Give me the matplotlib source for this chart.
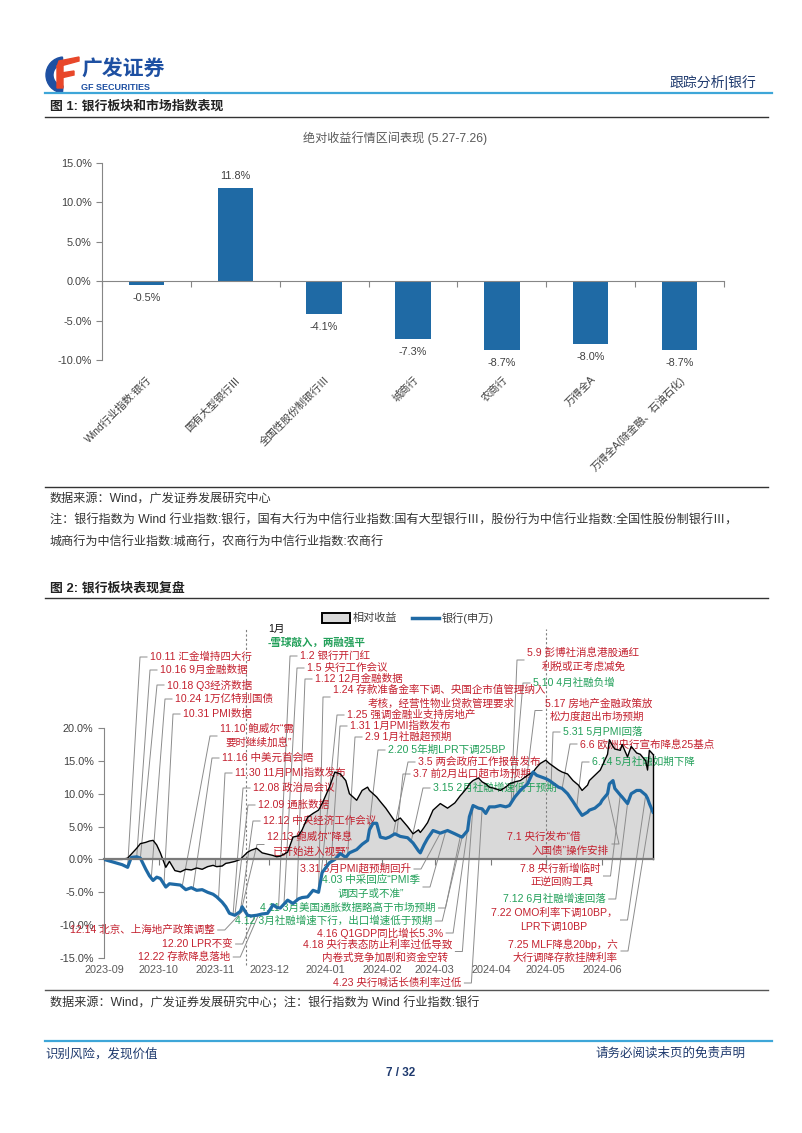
import matplotlib
matplotlib.use('Agg')
import matplotlib.pyplot as plt
import matplotlib.dates as mdates
from matplotlib.lines import Line2D
from matplotlib.patches import Rectangle, Wedge, Polygon
from matplotlib.ticker import FuncFormatter
import numpy as np
import pandas as pd

plt.rcParams['font.family'] = ['Liberation Sans', 'Noto Sans CJK SC', 'DejaVu Sans']
plt.rcParams['axes.unicode_minus'] = False

# ---------------- chart 1 data ----------------
bar_labels = ['Wind行业指数:银行', '国有大型银行Ⅲ', '全国性股份制银行Ⅲ', '城商行', '农商行',
              '万得全A', '万得全A(除金融、石油石化)']
bar_values = [-0.5, 11.8, -4.1, -7.3, -8.7, -8.0, -8.7]

# ---------------- chart 2 data ----------------
dates = ['2023-09-28', '2023-10-08', '2023-10-11', '2023-10-13', '2023-10-16', '2023-10-18', '2023-10-21',
         '2023-10-23', '2023-10-25', '2023-10-27', '2023-10-29', '2023-11-01', '2023-11-03', '2023-11-06',
         '2023-11-09', '2023-11-12', '2023-11-15', '2023-11-18', '2023-11-21', '2023-11-24', '2023-11-27',
         '2023-11-29', '2023-12-02', '2023-12-04', '2023-12-06', '2023-12-09', '2023-12-12', '2023-12-13',
         '2023-12-16', '2023-12-18', '2023-12-21', '2023-12-24', '2023-12-27', '2023-12-30', '2024-01-01',
         '2024-01-03', '2024-01-07', '2024-01-10', '2024-01-13', '2024-01-15', '2024-01-18', '2024-01-21',
         '2024-01-24', '2024-01-26', '2024-01-30', '2024-02-02', '2024-02-05', '2024-02-08', '2024-02-10',
         '2024-02-14', '2024-02-17', '2024-02-20', '2024-02-21', '2024-02-23', '2024-02-25', '2024-02-27',
         '2024-03-01', '2024-03-03', '2024-03-06', '2024-03-09', '2024-03-13', '2024-03-16', '2024-03-19',
         '2024-03-20', '2024-03-22', '2024-03-24', '2024-03-27', '2024-03-31', '2024-04-04', '2024-04-08',
         '2024-04-11', '2024-04-12', '2024-04-15', '2024-04-16', '2024-04-18', '2024-04-21', '2024-04-23',
         '2024-04-25', '2024-04-27', '2024-04-30', '2024-05-03', '2024-05-06', '2024-05-08', '2024-05-11',
         '2024-05-14', '2024-05-18', '2024-05-21', '2024-05-23', '2024-05-25', '2024-05-28', '2024-05-30',
         '2024-06-01', '2024-06-04', '2024-06-06', '2024-06-09', '2024-06-12', '2024-06-15', '2024-06-17',
         '2024-06-20', '2024-06-21', '2024-06-24', '2024-06-27', '2024-06-28', '2024-07-01', '2024-07-02',
         '2024-07-04', '2024-07-05', '2024-07-08', '2024-07-09', '2024-07-12', '2024-07-14', '2024-07-17',
         '2024-07-19', '2024-07-22', '2024-07-23', '2024-07-24', '2024-07-26']

bank = [0.0, -0.8, -1.2, 0.3, 0.4, 0.2, -1.5, -2.5, -3.2, -2.7, -2.9,
        -4.2, -3.7, -3.8, -3.9, -4.6, -4.3, -4.7, -4.6, -5.0, -5.3, -5.7,
        -6.5, -7.2, -8.2, -8.5, -7.9, -7.2, -8.5, -8.6, -8.5, -8.3, -8.2,
        -6.9, -7.3, -7.4, -6.2, -6.7, -6.0, -5.8, -5.7, -4.7, -5.0, -2.0,
        -0.5, 0.0, 0.9, 0.3, 1.0, 1.5, 2.3, 2.9, 4.5, 5.5, 5.5,
        3.4, 3.2, 3.4, 3.9, 3.5, 3.3, 2.5, 1.3, 1.0, 2.2, 3.2,
        4.4, 4.0, 4.4, 3.9, 3.5, 3.4, 4.4, 6.5, 8.2, 7.8, 7.7,
        7.0, 8.0, 8.0, 8.2, 8.0, 8.2, 9.5, 10.5, 11.5, 13.3, 12.8,
        12.6, 12.3, 12.0, 11.6, 11.0, 10.8, 10.0, 8.8, 7.5, 6.7, 7.2,
        7.5, 7.8, 8.5, 9.0, 10.0, 11.5, 12.0, 10.8, 9.8, 9.5, 8.5,
        10.0, 10.5, 10.5, 9.8, 9.3, 8.5, 7.2]

relative = [0.0, 0.0, 0.2, 0.8, 1.7, 2.4, 2.6, 2.8, 2.9, 2.2, 1.0,
            -1.2, -0.3, -1.7, -1.9, -1.5, -1.6, -1.3, -1.5, -1.1, -0.9, -1.1,
            -1.0, -0.6, -0.5, -0.3, 0.0, 0.3, 1.1, 1.4, 1.7, 1.0, 0.8,
            0.6, 0.4, 0.5, 1.1, 3.4, 3.6, 4.5, 6.4, 7.0, 7.5, 8.5,
            11.0, 13.3, 13.0, 12.0, 10.0, 9.0, 10.5, 11.0, 10.5, 10.0, 9.5,
            8.8, 7.8, 7.0, 5.8, 6.3, 5.0, 3.9, 4.5, 4.1, 4.8, 5.6,
            7.5, 8.5, 7.8, 8.6, 9.7, 10.0, 11.0, 11.5, 12.0, 12.4, 11.8,
            11.5, 11.0, 10.8, 10.5, 11.0, 11.5, 11.8, 12.0, 12.8, 13.3, 14.0,
            14.6, 15.1, 14.6, 14.2, 13.6, 13.3, 13.0, 12.0, 11.3, 10.5, 11.3,
            12.0, 12.8, 13.6, 14.2, 16.0, 18.2, 17.2, 16.8, 16.6, 17.5, 15.6,
            17.2, 16.2, 16.0, 15.0, 13.6, 16.6, 16.0]

tick_dates = pd.date_range('2023-09-28', periods=10, freq=pd.DateOffset(months=1))
marker_dates = ['2023-12-15', '2024-05-28']

RED = '#c4212f'
GREEN = '#23a05a'
BLACK = '#111111'

# event date, colour, [(text, left px, y px)], side of the leader line
events = [
    ('2023-10-11', RED, [('10.11 汇金增持四大行', 150, 657)], 'L'),
    ('2023-10-16', RED, [('10.16 9月金融数据', 160, 670)], 'L'),
    ('2023-10-18', RED, [('10.18 Q3经济数据', 167, 685)], 'L'),
    ('2023-10-24', RED, [('10.24 1万亿特别国债', 175, 699)], 'L'),
    ('2023-10-31', RED, [('10.31 PMI数据', 183, 714)], 'L'),
    ('2023-11-10', RED, [('11.10 鲍威尔“需', 220, 729), ('要时继续加息”', 225, 743)], 'L'),
    ('2023-11-16', RED, [('11.16 中美元首会晤', 222, 758)], 'L'),
    ('2023-11-30', RED, [('11.30 11月PMI指数发布', 235, 773)], 'L'),
    ('2023-12-08', RED, [('12.08 政治局会议', 253, 788)], 'L'),
    ('2023-12-09', RED, [('12.09 通胀数据', 258, 805)], 'L'),
    ('2023-12-12', RED, [('12.12 中央经济工作会议', 263, 821)], 'L'),
    ('2023-12-13', RED, [('12.13 鲍威尔“降息', 267, 837), ('已开始进入视野”', 273, 852)], 'L'),
    ('2024-01-02', RED, [('1.2 银行开门红', 300, 656)], 'L'),
    ('2024-01-05', RED, [('1.5 央行工作会议', 307, 668)], 'L'),
    ('2024-01-12', RED, [('1.12 12月金融数据', 315, 679)], 'L'),
    ('2024-01-24', RED, [('1.24 存款准备金率下调、央国企市值管理纳入', 333, 690),
                         ('考核，经营性物业贷款管理要求', 368, 704)], 'L'),
    ('2024-01-25', RED, [('1.25 强调金融业支持房地产', 347, 715)], 'L'),
    ('2024-01-31', RED, [('1.31 1月PMI指数发布', 350, 726)], 'L'),
    ('2024-02-09', RED, [('2.9 1月社融超预期', 365, 737)], 'L'),
    ('2024-02-20', GREEN, [('2.20 5年期LPR下调25BP', 388, 750)], 'L'),
    ('2024-03-05', RED, [('3.5 两会政府工作报告发布', 418, 762)], 'L'),
    ('2024-03-07', RED, [('3.7 前2月出口超市场预期', 413, 774)], 'L'),
    ('2024-03-15', GREEN, [('3.15 2月社融增速低于预期', 433, 788)], 'L'),
    ('2024-05-09', RED, [('5.9 彭博社消息港股通红', 527, 653), ('利税或正考虑减免', 542, 667)], 'L'),
    ('2024-05-10', GREEN, [('5.10 4月社融负增', 533, 683)], 'L'),
    ('2024-05-17', RED, [('5.17 房地产金融政策放', 545, 704), ('松力度超出市场预期', 550, 717)], 'L'),
    ('2024-05-31', GREEN, [('5.31 5月PMI回落', 563, 732)], 'L'),
    ('2024-06-06', RED, [('6.6 欧洲央行宣布降息25基点', 580, 744)], 'L'),
    ('2024-06-14', GREEN, [('6.14 5月社融如期下降', 592, 762)], 'L'),
    ('2023-12-14', RED, [('12.14 北京、上海地产政策调整', 70, 930)], 'R'),
    ('2023-12-20', RED, [('12.20 LPR不变', 162, 944)], 'R'),
    ('2023-12-22', RED, [('12.22 存款降息落地', 138, 957)], 'R'),
    ('2024-03-31', RED, [('3.31 3月PMI超预期回升', 300, 869)], 'R'),
    ('2024-04-03', GREEN, [('4.03 中采回应“PMI季', 322, 880), ('调因子或不准”', 338, 894)], 'R'),
    ('2024-04-11', GREEN, [('4.11 3月美国通胀数据略高于市场预期', 260, 908)], 'R'),
    ('2024-04-12', GREEN, [('4.12 3月社融增速下行，出口增速低于预期', 235, 921)], 'R'),
    ('2024-04-16', RED, [('4.16 Q1GDP同比增长5.3%', 317, 933)], 'R'),
    ('2024-04-18', RED, [('4.18 央行表态防止利率过低导致', 303, 945), ('内卷式竞争加剧和资金空转', 322, 958)], 'R'),
    ('2024-04-23', RED, [('4.23 央行喊话长债利率过低', 333, 983)], 'R'),
    ('2024-07-01', RED, [('7.1 央行发布“借', 507, 837), ('入国债”操作安排', 532, 851)], 'R'),
    ('2024-07-08', RED, [('7.8 央行新增临时', 520, 869), ('正逆回购工具', 530, 883)], 'R'),
    ('2024-07-12', GREEN, [('7.12 6月社融增速回落', 503, 899)], 'R'),
    ('2024-07-22', RED, [('7.22 OMO利率下调10BP，', 491, 913), ('LPR下调10BP', 520, 927)], 'R'),
    ('2024-07-25', RED, [('7.25 MLF降息20bp，六', 508, 944), ('大行调降存款挂牌利率', 513, 958)], 'R'),
]

# ---------------- page ----------------
W, H = 802, 1133
BLUE = '#1f6aa5'
NAVY = '#1f3a6e'
TXT = '#404040'
AXIS = '#868686'
EV_SIZE = 7.6

fig = plt.figure(figsize=(W / 100, H / 100), dpi=100)


def fx(x):
    return x / W


def fy(y):
    return 1 - y / H


def hline(y, x0, x1, color, lw=1.0):
    fig.add_artist(Line2D([fx(x0), fx(x1)], [fy(y), fy(y)], transform=fig.transFigure, color=color, lw=lw))


# header
logo = fig.add_axes([fx(45), fy(94), 36 / W, 38 / H])
logo.set_xlim(0, 36)
logo.set_ylim(0, 38)
logo.axis('off')
logo.add_patch(Wedge((19, 19), 18, 95, 265, width=7, color='#1e50a2'))
logo.add_patch(Polygon([(12, 27), (34, 33), (34, 37), (14, 33)], color='#e8472a'))
logo.add_patch(Polygon([(12, 6), (18, 6), (18, 30), (12, 28)], color='#e8472a'))
logo.add_patch(Polygon([(16, 16), (29, 19), (29, 23), (16, 21)], color='#e8472a'))
fig.text(fx(81), fy(70), '广发证券', fontsize=15, fontweight='bold', color='#1e50a2', va='center')
fig.text(fx(81), fy(87), 'GF SECURITIES', fontsize=6.5, fontweight='bold', color='#1e50a2', va='center')
fig.text(fx(756), fy(82), '跟踪分析|银行', fontsize=10, color=NAVY, ha='right', va='center')
hline(93, 45, 772, '#3ea6d8', 1.6)

fig.text(fx(50), fy(106), '图 1: 银行板块和市场指数表现', fontsize=9.3, fontweight='bold', color='#222222', va='center')
hline(117, 45, 768, '#333333', 1.0)

# ---------------- chart 1 ----------------
ax1 = fig.add_axes([fx(102), fy(360), (724 - 102) / W, (360 - 163) / H])
xpos = np.arange(len(bar_labels))
ax1.bar(xpos, bar_values, width=0.4, color=BLUE, zorder=2)
ax1.set_xlim(-0.5, len(bar_labels) - 0.5)
ax1.set_ylim(-10, 15)
ax1.set_yticks(np.arange(-10, 16, 5))
ax1.yaxis.set_major_formatter(FuncFormatter(lambda v, p: f'{v:.1f}%'))
for s in ['top', 'right']:
    ax1.spines[s].set_visible(False)
ax1.spines['left'].set_color(AXIS)
ax1.spines['bottom'].set_color(AXIS)
ax1.spines['bottom'].set_position(('data', 0))
ax1.set_xticks(np.arange(-0.5, len(bar_labels), 1.0))
ax1.tick_params(axis='x', length=4, color=AXIS, labelbottom=False)
ax1.tick_params(axis='y', length=4, color=AXIS, labelsize=7.8, labelcolor=TXT)
for xi, v in zip(xpos, bar_values):
    ax1.annotate(f'{v:.1f}%', (xi, v), xytext=(0, 12 if v > 0 else -13), textcoords='offset pixels',
                 ha='center', va='center', fontsize=7.8, color=TXT)
for xi, lab in zip(xpos, bar_labels):
    ax1.text(xi, -0.075, lab, transform=ax1.get_xaxis_transform(), rotation=45, rotation_mode='anchor',
             ha='right', va='top', fontsize=7.5, color=TXT)
fig.text(fx(395), fy(138), '绝对收益行情区间表现 (5.27-7.26)', fontsize=8.7, color='#595959', ha='center', va='center')

hline(487, 45, 768, '#333333', 1.0)
fig.text(fx(50), fy(499), '数据来源：Wind，广发证券发展研究中心', fontsize=8.7, color='#333333', va='center')
fig.text(fx(50), fy(521), '注：银行指数为 Wind 行业指数:银行，国有大行为中信行业指数:国有大型银行Ⅲ，股份行为中信行业指数:全国性股份制银行Ⅲ，',
         fontsize=8.7, color='#333333', va='center')
fig.text(fx(50), fy(543), '城商行为中信行业指数:城商行，农商行为中信行业指数:农商行', fontsize=8.7, color='#333333', va='center')

fig.text(fx(50), fy(588), '图 2: 银行板块表现复盘', fontsize=9.3, fontweight='bold', color='#222222', va='center')
hline(598, 45, 768, '#333333', 1.0)

# ---------------- chart 2 ----------------
dnum = mdates.datestr2num(dates)
ax2 = fig.add_axes([fx(104), fy(958), (653 - 104) / W, (958 - 728) / H])
ax2.set_xlim(dnum[0], dnum[-1])
ax2.set_ylim(-15, 20)
ax2.fill_between(dnum, relative, 0, color='#d9d9d9', lw=0, zorder=1)
ax2.plot(dnum, relative, color='black', lw=1.0, zorder=3)
ax2.plot([dnum[-1], dnum[-1]], [0, relative[-1]], color='black', lw=1.0, zorder=3, clip_on=False)
ax2.plot(dnum, bank, color=BLUE, lw=2.3, zorder=4)

for s in ['top', 'right']:
    ax2.spines[s].set_visible(False)
ax2.spines['left'].set_color(AXIS)
ax2.spines['bottom'].set_color('#7a7a7a')
ax2.spines['bottom'].set_linewidth(1.6)
ax2.spines['bottom'].set_position(('data', 0))
ax2.spines['bottom'].set_zorder(5)
ax2.set_yticks(np.arange(-15, 21, 5))
ax2.yaxis.set_major_formatter(FuncFormatter(lambda v, p: f'{v:.1f}%'))
ax2.tick_params(axis='y', length=4, color=AXIS, labelsize=7.8, labelcolor=TXT)
tnum = mdates.date2num(tick_dates.to_pydatetime())
ax2.set_xticks(tnum)
ax2.tick_params(axis='x', length=4, color='#7a7a7a', labelbottom=False)
for t, d in zip(tnum, tick_dates):
    ax2.text(t, -0.052, d.strftime('%Y-%m'), transform=ax2.get_xaxis_transform(), ha='center', va='center',
             fontsize=7.8, color='#595959', clip_on=False)

for md in mdates.datestr2num(marker_dates):
    bottom = -16 if md < dnum[len(dnum) // 2] else -1
    ax2.plot([md, md], [bottom, 35], color='#7f7f7f', lw=0.8, ls=(0, (2, 2)), clip_on=False, zorder=2)

# legend
fig.add_artist(Rectangle((fx(322), fy(623)), 28 / W, 10 / H, transform=fig.transFigure,
                         facecolor='#d9d9d9', edgecolor='black', lw=1.4))
fig.text(fx(353), fy(618), '相对收益', fontsize=8, color=TXT, va='center')
fig.add_artist(Line2D([fx(412), fx(439)], [fy(618), fy(618)], transform=fig.transFigure, color=BLUE, lw=2.5))
fig.text(fx(442), fy(618), '银行(申万)', fontsize=8, color=TXT, va='center')

ax2.text(fx(268), fy(629), '1月', transform=fig.transFigure, fontsize=EV_SIZE, color=BLACK, va='center', zorder=2.5)
ax2.text(fx(268), fy(643), '-雪球敲入，两融强平', transform=fig.transFigure, fontsize=EV_SIZE, color=GREEN,
         va='center', zorder=2.5, fontweight='bold')

renderer = fig.canvas.get_renderer()
to_fig = fig.transFigure.inverted()
for ev_date, color, lines, side in events:
    texts = []
    for s, x, y in lines:
        texts.append(ax2.text(fx(x), fy(y), s, transform=fig.transFigure, fontsize=EV_SIZE, color=color,
                              va='center', ha='left', zorder=2.5, clip_on=False))
    ymid = np.mean([y for _, _, y in lines])
    d = mdates.datestr2num(ev_date)
    px, py = to_fig.transform(ax2.transData.transform((d, np.interp(d, dnum, bank))))
    if side == 'L':
        x0 = lines[0][1]
        xs = [fx(x0 - 3), fx(x0 - 10), px]
    else:
        right = max(t.get_window_extent(renderer).x1 for t in texts)
        xs = [fx(right + 3), fx(right + 10), px]
    ax2.plot(xs, [fy(ymid), fy(ymid), py], transform=fig.transFigure, color='#8c8c8c', lw=0.7,
             clip_on=False, zorder=2)

hline(990, 45, 768, '#555555', 1.0)
fig.text(fx(50), fy(1003), '数据来源：Wind，广发证券发展研究中心；注：银行指数为 Wind 行业指数:银行',
         fontsize=8.7, color='#333333', va='center')

# footer
hline(1041, 45, 772, '#3ea6d8', 1.6)
fig.text(fx(45), fy(1054), '识别风险，发现价值', fontsize=9, color=NAVY, va='center')
fig.text(fx(746), fy(1054), '请务必阅读末页的免责声明', fontsize=9, color=NAVY, ha='right', va='center')
fig.text(fx(401), fy(1073), '7 / 32', fontsize=8.5, fontweight='bold', color=NAVY, ha='center', va='center')

fig.savefig('out.png', dpi=100)
